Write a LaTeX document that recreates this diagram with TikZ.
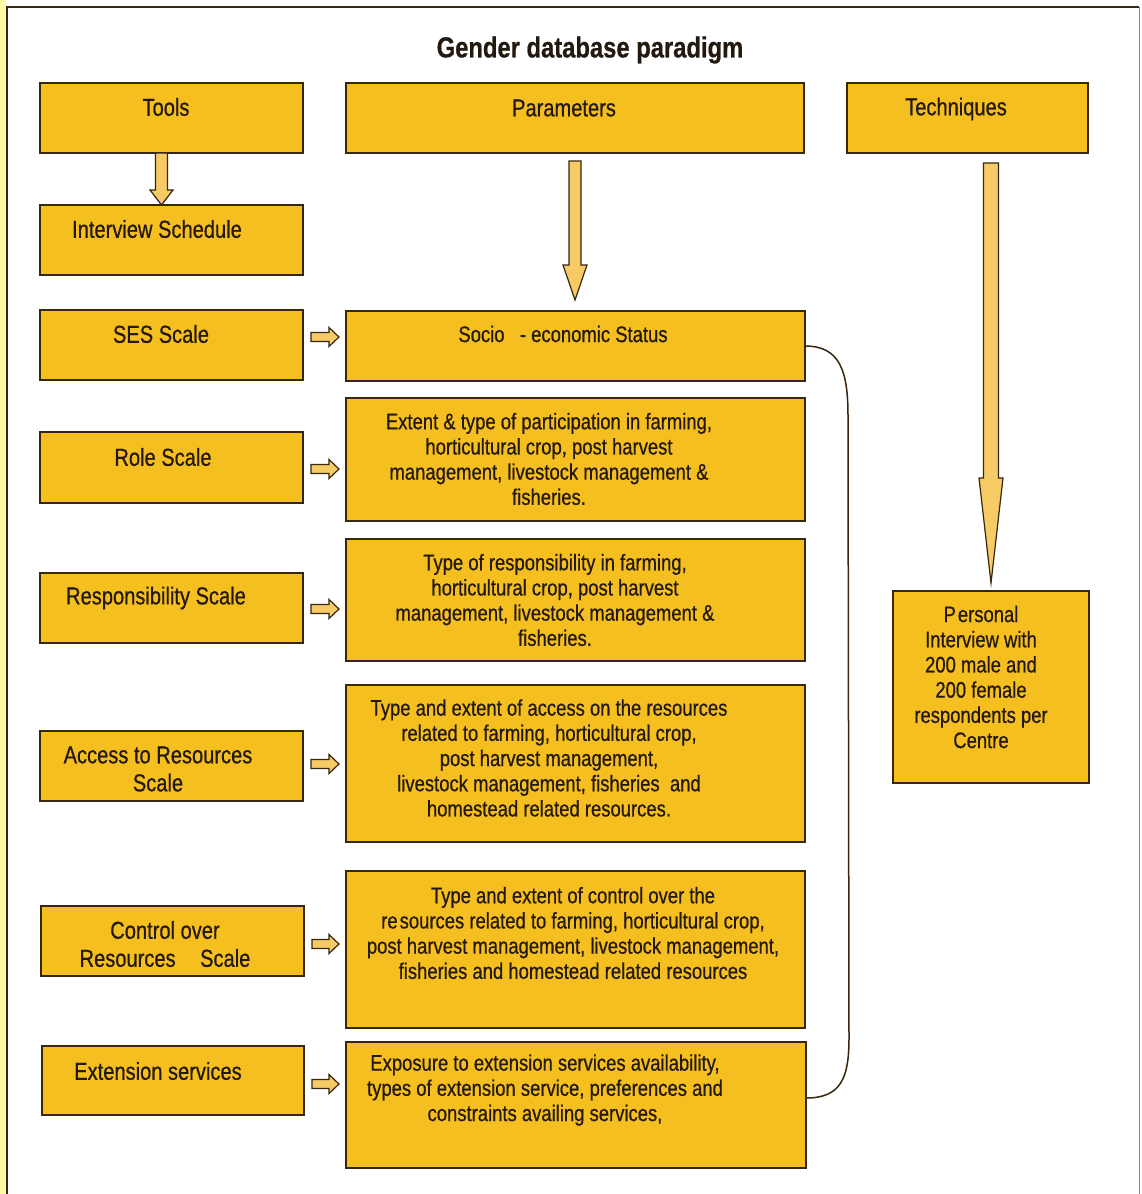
\documentclass[tikz,border=0pt]{standalone}
\usepackage{fontspec}
\setmainfont{Liberation Sans}[FakeStretch=0.82,FakeBold=0.6,BoldFeatures={FakeStretch=0.82}]
\usetikzlibrary{calc}
\definecolor{boxfill}{RGB}{246,191,32}
\definecolor{edge}{RGB}{55,38,18}
\definecolor{arrowfill}{RGB}{246,202,100}
\definecolor{strip}{RGB}{255,250,165}
\definecolor{frameright}{RGB}{150,140,70}
\definecolor{ink}{RGB}{35,25,15}
\newcommand\gbox[5]{\node[box,anchor=north west,minimum width={#4-#2},minimum height={#5-#3}] (#1) at (#2,#3) {};}
\newcommand\blkdown[5]{\draw[barrow] let \p1=(#1), \p2=(#2) in
  (\x1-#3pt,\y1) -- (\x1+#3pt,\y1) -- (\x1+#3pt,\y2+#5pt) -- (\x1+#4pt,\y2+#5pt) -- (\x1,\y2)
  -- (\x1-#4pt,\y2+#5pt) -- (\x1-#3pt,\y2+#5pt) -- cycle;}
\newcommand\blkright[3]{\draw[barrow] let \p1=($(#1.east)+(8,#3)$), \p2=(#2.west) in
  (\x1,\y1-4.5pt) -- (\x2-17pt,\y1-4.5pt) -- (\x2-17pt,\y1-9.5pt) -- (\x2-7pt,\y1)
  -- (\x2-17pt,\y1+9.5pt) -- (\x2-17pt,\y1+4.5pt) -- (\x1,\y1+4.5pt) -- cycle;}
\begin{document}
\begin{tikzpicture}[x=1pt,y=-1pt,
  box/.style={draw=edge, fill=boxfill, line width=1.4pt, inner sep=0pt, outer sep=0pt},
  txt/.style={text=ink, align=center, inner sep=0pt, font=\fontsize{22.5}{25.2}\selectfont},
  lbl/.style={text=ink, align=center, inner sep=0pt, font=\fontsize{24.5}{28}\selectfont},
  barrow/.style={draw=edge, fill=arrowfill, line width=1.2pt, line join=miter},
  bracket/.style={draw=edge, line width=1.5pt}]
\useasboundingbox (0,0) rectangle (1141,1194);
\fill[white] (0,0) rectangle (1141,1194);
\fill[strip] (0,0) rectangle (6,1194);
\draw[edge, line width=1.2pt] (7,1194) -- (7,7) -- (1139,7);
\draw[frameright, line width=0.8pt] (1139,7) -- (1139,1194);

\node[text=ink, font=\bfseries\fontsize{29}{32}\selectfont] (title) at (590,50) {Gender database paradigm};

% header row
\gbox{tools}{40}{83}{303}{153}
\gbox{params}{346}{83}{804}{153}
\gbox{techn}{847}{83}{1088}{153}
% left column
\gbox{interview}{40}{205}{303}{275}
\gbox{ses}{40}{310}{303}{380}
\gbox{role}{40}{432}{303}{503}
\gbox{resp}{40}{573}{303}{643}
\gbox{access}{40}{731}{303}{801}
\gbox{control}{41}{906}{304}{976}
\gbox{extserv}{42}{1046}{304}{1115}
% middle column
\gbox{socio}{346}{311}{805}{381}
\gbox{partic}{346}{398}{805}{521}
\gbox{respon}{346}{539}{805}{661}
\gbox{accres}{346}{685}{805}{842}
\gbox{ctrlres}{346}{871}{805}{1028}
\gbox{expo}{346}{1042}{806}{1168}
% right column
\gbox{personal}{893}{591}{1089}{783}

% texts
\node[lbl] (tTools) at (166,107) {Tools};
\node[lbl] (tParams) at (564,108) {Parameters};
\node[lbl] (tTech) at (956,109) {Techniques};
\node[lbl] (tInt) at (157,229) {Interview Schedule};
\node[lbl] (tSES) at (161,334) {SES Scale};
\node[lbl] (tRole) at (163,457) {Role Scale};
\node[lbl] (tResp) at (156,598) {Responsibility Scale};
\node[lbl] (tAcc) at (158,769) {Access to Resources\\Scale};
\node[lbl] (tCtrl) at (165,944) {Control over\\Resources\quad Scale};
\node[lbl] (tExtS) at (158,1071) {Extension services};

\node[txt] (tSocio) at (563,334) {Socio\ \ \ - economic Status};
\node[txt] (tPartic) at (549,459) {Extent \& type of participation in farming,\\horticultural crop, post harvest\\management, livestock management \&\\fisheries.};
\node[txt] (tRespon) at (555,600) {Type of responsibility in farming,\\horticultural crop, post harvest\\management, livestock management \&\\fisheries.};
\node[txt] (tAccres) at (549,758) {Type and extent of access on the resources\\related to farming, horticultural crop,\\post harvest management,\\livestock management, fisheries\ \ and\\homestead related resources.};
\node[txt] (tCtrlres) at (573,933) {Type and extent of control over the\\re\kern2pt sources related to farming, horticultural crop,\\post harvest management, livestock management,\\fisheries and homestead related resources};
\node[txt] (tExpo) at (545,1090) {Exposure to extension services availability,\\types of extension service, preferences and\\constraints availing services,};
\node[txt] (tPers) at (981,677) {P\kern2pt ersonal\\Interview with\\200 male and\\200 female\\respondents per\\Centre};

% block arrows
\blkdown{$(tools.south)+(-10,0)$}{$(interview.north)+(-10,0)$}{6}{11.5}{15}
\blkdown{$(params.south)+(0,8)$}{$(socio.north)+(0,-11)$}{6}{12}{35}
\blkdown{$(personal.north |- techn.south)+(0,10)$}{$(personal.north)+(0,-8)$}{7.5}{12}{105}

\blkright{ses}{socio}{-8}
\blkright{role}{partic}{1.5}
\blkright{resp}{respon}{1}
\blkright{access}{accres}{-2}
\blkright{control}{ctrlres}{3}
\blkright{extserv}{expo}{3.5}

% bracket joining the parameters
\draw[bracket] (socio.east) .. controls +(35,0) and +(0,-45) .. ($(socio.east)+(43,70)$)
  -- ($(expo.east)+(43,-67)$) .. controls +(0,40) and +(35,0) .. ($(expo.east)+(0,-7)$);
\end{tikzpicture}
\end{document}
